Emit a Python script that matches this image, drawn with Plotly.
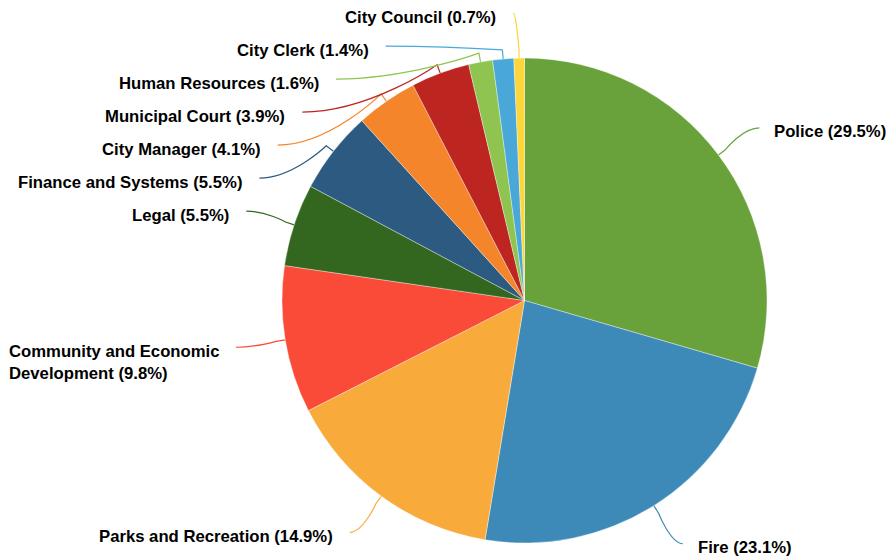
import math
import plotly.graph_objects as go

# Budget share by department (percent of total)
departments = [
    "Police",
    "Fire",
    "Parks and Recreation",
    "Community and Economic Development",
    "Legal",
    "Finance and Systems",
    "City Manager",
    "Municipal Court",
    "Human Resources",
    "City Clerk",
    "City Council",
]
shares = [29.5, 23.1, 14.9, 9.8, 5.5, 5.5, 4.1, 3.9, 1.6, 1.4, 0.7]
slice_colors = [
    "#69a23b", "#3d8ab8", "#f8ab3a", "#f94b37", "#33671f", "#2c5a80",
    "#f4852b", "#bc2520", "#8ec44f", "#4aa8d8", "#fdd63c",
]

# Canvas and pie geometry (pixels)
W, H = 889, 559
CX, CY, R = 524.5, 300.5, 242.5
DIST = 45          # label distance from the pie edge
PAD = 5            # extra padding added to the label x
OFFSET = DIST / 5  # radial length of the straight connector piece
GAP_LEFT = 17      # space between connector end and text, left side
GAP_RIGHT = 15     # same, right side
ROW = 33           # minimum vertical spacing between stacked labels
TOP = 13           # highest allowed label anchor
FONT_SIZE = 16.7
LINE_H = 22


def px(x):
    return x / W


def py(y):
    return 1 - y / H


def wrap(text, limit=32, width=23):
    if len(text) <= limit:
        return [text]
    cut = text.rfind(" ", 0, width)
    return [text[:cut], text[cut + 1:]]


total = sum(shares)
mids = []
acc = 0.0
for v in shares:
    mids.append((acc + v / 2) / total * 2 * math.pi)
    acc += v

RR = R + DIST
labels = []
for i, (name, v, th) in enumerate(zip(departments, shares, mids)):
    lines = wrap(f"{name} ({v:.1f}%)")
    labels.append({
        "i": i,
        "theta": th,
        "left": math.sin(th) < 0,
        "natural_y": CY - RR * math.cos(th),
        "lines": lines,
    })

# Stack labels on each side so they do not overlap
for side in (True, False):
    group = sorted([l for l in labels if l["left"] == side], key=lambda l: l["natural_y"])
    prev = None
    for l in group:
        y = max(l["natural_y"], TOP)
        if prev is not None:
            y = max(y, prev["y"] + ROW * len(prev["lines"]))
        l["y"] = y
        prev = l


def get_x(y, left):
    dy = y - CY
    half = math.sqrt(max(0.0, RR * RR - dy * dy))
    return CX - half - PAD if left else CX + half + PAD


fig = go.Figure(
    go.Pie(
        labels=departments,
        values=shares,
        sort=False,
        direction="clockwise",
        rotation=0,
        textinfo="none",
        hoverinfo="label+percent",
        marker=dict(colors=slice_colors, line=dict(color="rgba(255,255,255,0.6)", width=0.6)),
        domain=dict(x=[px(CX - R), px(CX + R)], y=[py(CY + R), py(CY - R)]),
        showlegend=False,
    )
)

shapes = []
annotations = []
for l in labels:
    th = l["theta"]
    sx, cy_ = math.sin(th), math.cos(th)
    y = l["y"]
    x_src_y = l["natural_y"] if y <= TOP + 2 else y
    x = get_x(x_src_y, l["left"])
    bx, by = CX + (R + OFFSET) * sx, CY - (R + OFFSET) * cy_
    tx, ty = CX + R * sx, CY - R * cy_
    path = (
        f"M {px(x)},{py(y)} "
        f"C {px((x + bx) / 2)},{py(y)} {px(bx)},{py(by)} {px(bx)},{py(by)} "
        f"L {px(tx)},{py(ty)}"
    )
    shapes.append(dict(
        type="path", xref="paper", yref="paper", path=path,
        line=dict(color=slice_colors[l["i"]], width=1.2), layer="below",
    ))
    n = len(l["lines"])
    text_center = y + 4 + (n - 1) * LINE_H / 2
    annotations.append(dict(
        xref="paper", yref="paper",
        x=px(x - GAP_LEFT if l["left"] else x + GAP_RIGHT),
        y=py(text_center),
        xanchor="right" if l["left"] else "left",
        yanchor="middle",
        align="left",
        text="<br>".join(l["lines"]),
        showarrow=False,
        borderpad=0,
        borderwidth=0,
        font=dict(family="Liberation Sans, Arial, sans-serif", size=FONT_SIZE,
                  color="#000000", weight="bold"),
    ))

fig.update_layout(
    width=W,
    height=H,
    margin=dict(l=0, r=0, t=0, b=0),
    paper_bgcolor="#ffffff",
    plot_bgcolor="#ffffff",
    shapes=shapes,
    annotations=annotations,
)

fig.write_html("out.html")
